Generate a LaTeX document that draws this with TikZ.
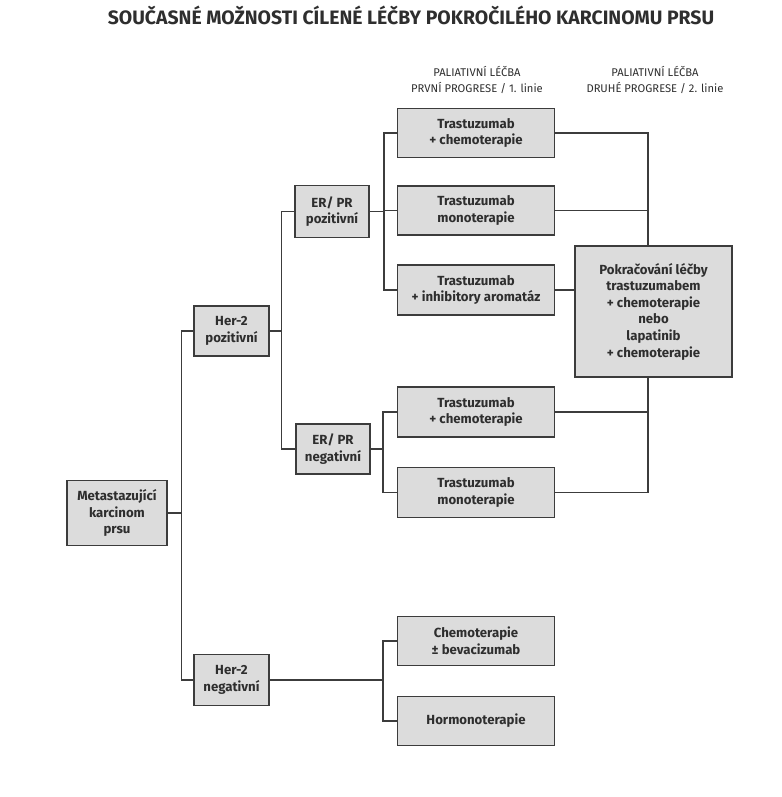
\documentclass[tikz,border=0pt]{standalone}
\usepackage{fontspec}
\setmainfont{Fira Sans}
\definecolor{boxfill}{HTML}{DCDCDC}
\definecolor{linec}{HTML}{3C3C3C}
\definecolor{txt}{HTML}{2E2E2E}
\begin{document}
\begin{tikzpicture}[x=1pt,y=-1pt,
  box/.style={draw=linec, line width=1.4pt, fill=boxfill, text=txt, align=center,
    inner sep=0pt, font=\fontsize{13.2}{16.6}\selectfont\bfseries},
  conn/.style={draw=linec, line width=1.3pt},
  hdr/.style={text=txt, align=center, font=\fontsize{11.2}{15.5}\selectfont}]
\useasboundingbox (0,0) rectangle (781,797);
\node[text=txt, font=\fontsize{19.4}{21}\selectfont\bfseries] (title) at (411,15) {SOUČASNÉ MOŽNOSTI CÍLENÉ LÉČBY POKROČILÉHO KARCINOMU PRSU};
\node[hdr] (h1) at (477,80) {PALIATIVNÍ LÉČBA\\PRVNÍ PROGRESE / 1. linie};
\node[hdr] (h2) at (655,80) {PALIATIVNÍ LÉČBA\\DRUHÉ PROGRESE / 2. linie};

\node[box, minimum width=100, minimum height=65] (meta) at (117,513) {Metastazující\\karcinom\\prsu};
\node[box, minimum width=75, minimum height=50] (her2p) at (231.5,331) {Her-2\\pozitivní};
\node[box, minimum width=75, minimum height=51] (her2n) at (231.5,680) {Her-2\\negativní};
\node[box, minimum width=74, minimum height=52] (erp) at (332,211.5) {ER/ PR\\pozitivní};
\node[box, minimum width=74, minimum height=50] (ern) at (333,449) {ER/ PR\\negativní};
\node[box, minimum width=157, minimum height=49] (t1) at (476,133) {Trastuzumab\\+ chemoterapie};
\node[box, minimum width=157, minimum height=49] (t2) at (476,210.5) {Trastuzumab\\monoterapie};
\node[box, minimum width=157, minimum height=50] (t3) at (476,290) {Trastuzumab\\+ inhibitory aromatáz};
\node[box, minimum width=157, minimum height=50] (t4) at (476,412) {Trastuzumab\\+ chemoterapie};
\node[box, minimum width=157, minimum height=50] (t5) at (476,492.5) {Trastuzumab\\monoterapie};
\node[box, minimum width=157, minimum height=49] (chemo) at (476,641) {Chemoterapie\\± bevacizumab};
\node[box, minimum width=157, minimum height=49] (hormo) at (476,721) {Hormonoterapie};
\node[box, minimum width=157, minimum height=131] (pok) at (653.5,311.5) {Pokračování léčby\\trastuzumabem\\+ chemoterapie\\nebo\\lapatinib\\+ chemoterapie};

\coordinate (j1) at (181.5,0);
\coordinate (j2) at (281.5,0);
\coordinate (j3) at (384,0);
\coordinate (j4) at (383,0);
\coordinate (j5) at (648,0);

% level 1
\draw[conn] (meta.east) -- (meta.east -| j1);
\draw[conn] (her2p.west) -- (her2p.west -| j1) -- (j1 |- her2n.west) -- (her2n.west);
% level 2
\draw[conn] (her2p.east) -- (her2p.east -| j2);
\draw[conn] (erp.west) -- (erp.west -| j2) -- (j2 |- ern.west) -- (ern.west);
% level 3
\draw[conn] (erp.east) -- (erp.east -| j3);
\draw[conn] (t1.west) -- (t1.west -| j3) -- (j3 |- t3.west) -- (t3.west);
\draw[conn] (t2.west) -- (t2.west -| j3);
\draw[conn] (ern.east) -- (ern.east -| j4);
\draw[conn] (t4.west) -- (t4.west -| j4) -- (j4 |- t5.west) -- (t5.west);
\draw[conn] (her2n.east) -- (her2n.east -| j4);
\draw[conn] (chemo.west) -- (chemo.west -| j4) -- (j4 |- hormo.west) -- (hormo.west);
% right side
\draw[conn] (t1.east) -- (t1.east -| j5) -- (j5 |- pok.north);
\draw[conn] (t2.east) -- (t2.east -| j5);
\draw[conn] (t3.east) -- (t3.east -| pok.west);
\draw[conn] (t4.east) -- (t4.east -| j5);
\draw[conn] (t5.east) -- (t5.east -| j5) -- (j5 |- pok.south);
\end{tikzpicture}
\end{document}
